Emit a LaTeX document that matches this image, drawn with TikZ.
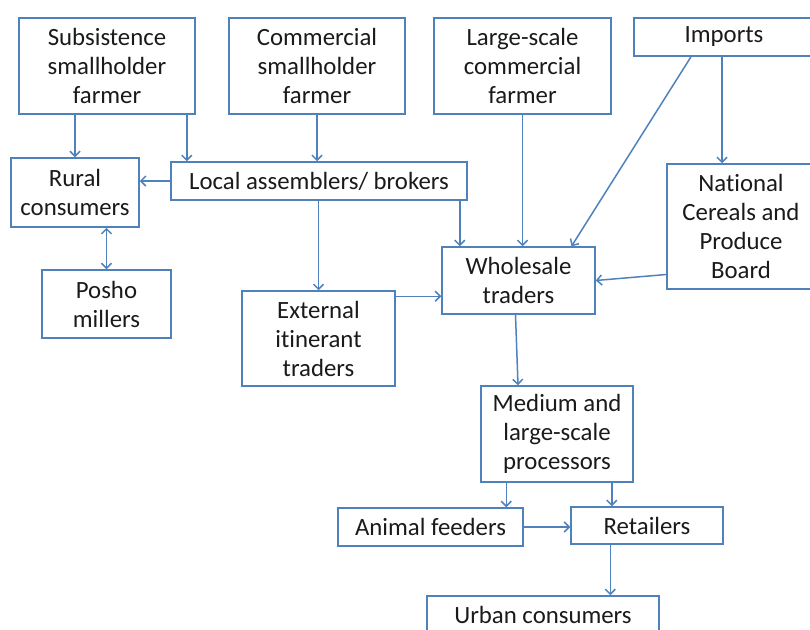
\documentclass[tikz,border=0pt]{standalone}
\usepackage{fontspec}
\setmainfont{Carlito}[RawFeature=-liga]
\usetikzlibrary{arrows.meta}
\definecolor{boxblue}{HTML}{4F81BD}
\definecolor{textdark}{HTML}{1A1A1A}

\begin{document}
\begin{tikzpicture}[x=1pt,y=-1pt,
  box/.style={draw=boxblue, line width=1.5pt, align=center, inner sep=0pt,
    text=textdark, font=\fontsize{24.8}{29}\selectfont},
  arr/.style={draw=boxblue, line width=1.5pt, -{Straight Barb[length=5pt,width=10pt]}}]

\clip (0,0) rectangle (810,629);

% Producteurs
\node[box, minimum width=176pt, minimum height=96pt] (subs) at (107,66) {Subsistence\\smallholder\\farmer};
\node[box, minimum width=176pt, minimum height=96pt] (comm) at (317,66) {Commercial\\smallholder\\farmer};
\node[box, minimum width=177pt, minimum height=96pt] (large) at (522.5,66) {Large-scale\\commercial\\farmer};
\node[box, minimum width=180pt, minimum height=38pt] (imp) at (724,37) {Imports};

% Intermediaires
\node[box, minimum width=128pt, minimum height=69pt] (rural) at (75,192.5) {Rural\\consumers};
\node[box, minimum width=296pt, minimum height=38pt] (loc) at (319,181) {Local assemblers/ brokers};
\node[box, minimum width=148pt, minimum height=125pt] (nat) at (741,226.5) {National\\Cereals and\\Produce\\Board};
\node[box, minimum width=153pt, minimum height=67pt] (whole) at (518.5,280.5) {Wholesale\\traders};
\node[box, minimum width=129pt, minimum height=68pt] (posho) at (106.5,304) {Posho\\millers};
\node[box, minimum width=153pt, minimum height=95pt] (ext) at (318.5,338.5) {External\\itinerant\\traders};

% Transformation et distribution
\node[box, minimum width=152pt, minimum height=96pt] (med) at (557,434) {Medium and\\large-scale\\processors};
\node[box, minimum width=185pt, minimum height=38pt] (anim) at (430.5,527) {Animal feeders};
\node[box, minimum width=152pt, minimum height=37pt] (ret) at (647,525.5) {Retailers};
\node[box, minimum width=232pt, minimum height=38pt] (urb) at (543,615) {Urban consumers};

% Fleches
\draw[arr] (subs.south -| rural.north) -- (rural.north);
\draw[arr] ([xshift=-9pt]subs.south east) -- ([xshift=-9pt]subs.south east |- loc.north);
\draw[arr] (comm.south) -- (comm.south |- loc.north);
\draw[arr] (loc.west) -- (loc.west -| rural.east);
\draw[arr, {Straight Barb[length=5pt,width=10pt]}-{Straight Barb[length=5pt,width=10pt]}] (posho.north) -- (posho.north |- rural.south);
\draw[arr] (ext.north |- loc.south) -- (ext.north);
\draw[arr] ([xshift=-8pt]loc.south east) -- ([xshift=-8pt]loc.south east |- whole.north);
\draw[arr] (large.south) -- (large.south |- whole.north);
\draw[arr] ([xshift=-33pt]imp.south) -- ([xshift=53pt]whole.north);
\draw[arr] ([xshift=-2pt]imp.south) -- ([xshift=-2pt]imp.south |- nat.north);
\draw[arr] ([yshift=-48pt]nat.west) -- (whole.east);
\draw[arr] ([yshift=-6pt]ext.north east) -- ([yshift=-6pt]ext.north east -| whole.west);
\draw[arr] ([xshift=-3pt]whole.south) -- ([xshift=-39pt]med.north);
\draw[arr] ([xshift=26pt]med.south west) -- ([xshift=26pt]med.south west |- anim.north);
\draw[arr] ([xshift=-22pt]med.south east) -- ([xshift=-22pt]med.south east |- ret.north);
\draw[arr] (anim.east) -- (anim.east -| ret.west);
\draw[arr] ([xshift=40pt]ret.south west) -- ([xshift=40pt]ret.south west |- urb.north);

\end{tikzpicture}
\end{document}
